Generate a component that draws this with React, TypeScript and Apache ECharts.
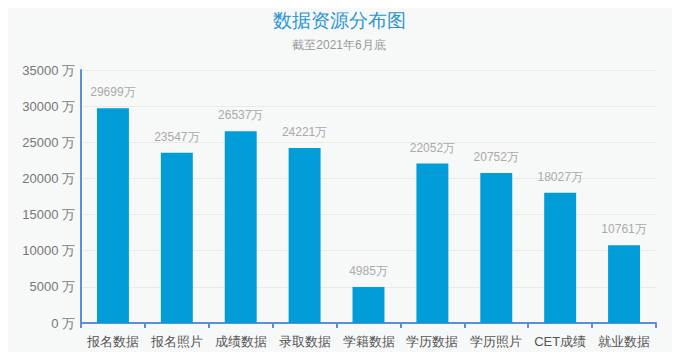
import React, { useEffect, useRef } from "react";
import * as echarts from "echarts";

const categories = ["报名数据", "报名照片", "成绩数据", "录取数据", "学籍数据", "学历数据", "学历照片", "CET成绩", "就业数据"];
const values = [29699, 23547, 26537, 24221, 4985, 22052, 20752, 18027, 10761];
const titleText = "数据资源分布图";
const subText = "截至2021年6月底";

export default function App() {
  const ref = useRef<HTMLDivElement>(null);
  useEffect(() => {
    const chart = echarts.init(ref.current!, null, { renderer: "svg" });
    chart.setOption({
      animation: false,
      backgroundColor: "#f7f8f8",
      title: {
        text: titleText,
        subtext: subText,
        left: "center",
        top: 4,
        itemGap: 9,
        textStyle: { color: "#2b95d6", fontSize: 19, fontWeight: "normal" },
        subtextStyle: { color: "#999", fontSize: 12 },
      },
      grid: { left: 79, right: 20, top: 68, bottom: 34 },
      xAxis: {
        type: "category",
        data: categories,
        axisLine: { lineStyle: { color: "#5b8fd6", width: 2 } },
        axisTick: { show: true, interval: 0, lineStyle: { color: "#5b8fd6", width: 2 }, length: 5 },
        axisLabel: { color: "#555", fontSize: 13, margin: 12, interval: 0 },
      },
      yAxis: {
        type: "value",
        min: 0,
        max: 35000,
        interval: 5000,
        axisLine: { show: true, lineStyle: { color: "#5b8fd6", width: 2 } },
        axisTick: { show: false },
        axisLabel: { color: "#777", fontSize: 13, formatter: (v: number) => v + " 万", margin: 6 },
        splitLine: { lineStyle: { color: "#ebebdf", width: 1 } },
      },
      series: [
        {
          type: "bar",
          data: values,
          barWidth: "50%",
          itemStyle: { color: "#009dd9" },
          label: {
            show: true,
            position: "top",
            distance: 10,
            color: "#aaa",
            fontSize: 12,
            formatter: (p: any) => p.value + "万",
          },
        },
      ],
    });
    return () => chart.dispose();
  }, []);
  return (
    <div
      ref={ref}
      style={{
        width: 674,
        height: 355,
        borderStyle: "solid",
        borderColor: "#d4d4d4",
        borderWidth: "2px 4px 3px 2px",
        margin: -8,
      }}
    />
  );
}
